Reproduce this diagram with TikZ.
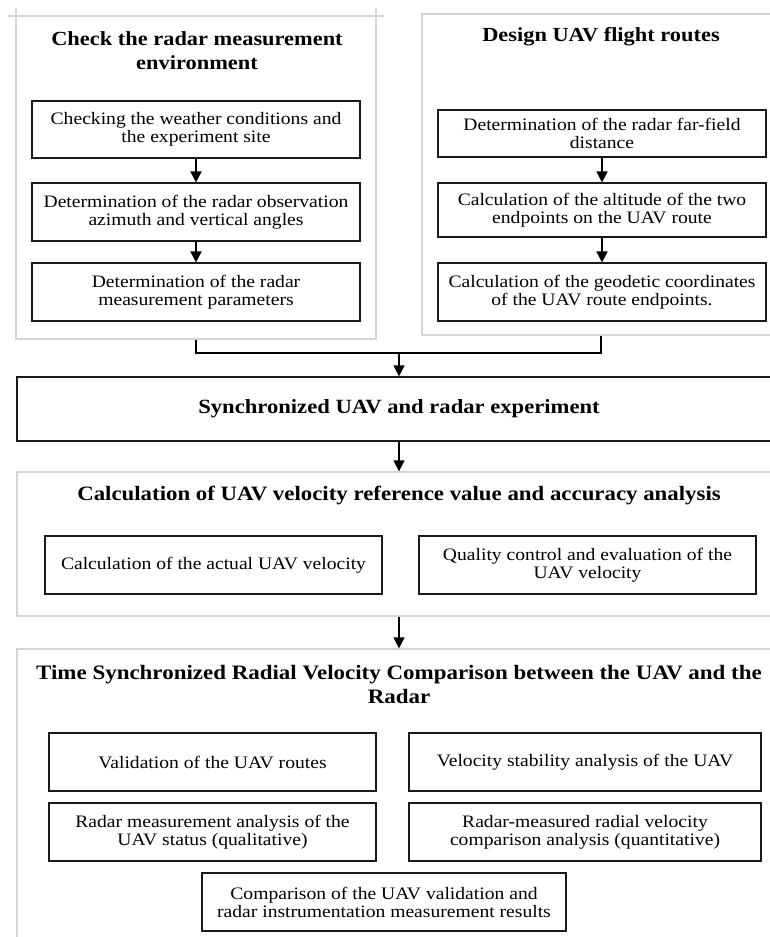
\documentclass[tikz,border=0pt]{standalone}
\usepackage{fontspec}
\setmainfont[FakeStretch=1.12]{Liberation Serif}
\usetikzlibrary{arrows.meta}
\begin{document}
\begin{tikzpicture}[x=1pt,y=-1pt,
  panel/.style={draw=black!17, line width=1.3pt, inner sep=0pt},
  stepbox/.style={draw=black!90, line width=1.1pt, align=center, inner sep=0pt,
    font=\fontsize{17.5}{18}\selectfont},
  ttl/.style={align=center, inner sep=0pt, font=\fontsize{20}{24}\selectfont\bfseries},
  wttl/.style={align=center, inner sep=0pt, font=\fontsize{20.4}{24}\selectfont\bfseries},
  link/.style={line width=1.5pt, draw=black},
  arr/.style={link, -{Triangle[width=11pt,length=11pt]}}]
\useasboundingbox (0,0) rectangle (770,937);

% ---------- top-left panel ----------
\node[panel, minimum width=360pt, minimum height=323pt] (pl) at (196,177.5) {};
\draw[draw=black!17, line width=1.3pt] (8,16) -- (384,16) (16,8) -- (16,16) (376,8) -- (376,16);
\node[ttl] (tl) at (197,51) {Check the radar measurement\\environment};
\node[stepbox, minimum width=328pt, minimum height=57pt] (l1) at (196,129.5)
  {Checking the weather conditions and\\the experiment site};
\node[stepbox, minimum width=328pt, minimum height=58pt] (l2) at (196,212)
  {Determination of the radar observation\\azimuth and vertical angles};
\node[stepbox, minimum width=328pt, minimum height=58pt] (l3) at (196,292)
  {Determination of the radar\\measurement parameters};
\draw[arr] (l1.south) -- (l2.north);
\draw[arr] (l2.south) -- (l3.north);

% ---------- top-right panel ----------
\node[panel, minimum width=358pt, minimum height=321pt] (pr) at (601,174.5) {};
\node[ttl] (tr) at (601,37) {Design UAV flight routes};
\node[stepbox, minimum width=328pt, minimum height=47pt] (r1) at (602,133.5)
  {Determination of the radar far-field\\distance};
\node[stepbox, minimum width=328pt, minimum height=54pt] (r2) at (602,210)
  {Calculation of the altitude of the two\\endpoints on the UAV route};
\node[stepbox, minimum width=328pt, minimum height=58pt] (r3) at (602,292)
  {Calculation of the geodetic coordinates\\of the UAV route endpoints.};
\draw[arr] (r1.south) -- (r2.north);
\draw[arr] (r2.south) -- (r3.north);

% ---------- synchronized experiment ----------
\coordinate (j) at (399,353);
\node[draw=black!90, line width=1.3pt, minimum width=764pt, minimum height=64pt, inner sep=0pt,
  font=\fontsize{20.2}{24}\selectfont\bfseries] (sync) at (399,409)
  {Synchronized UAV and radar experiment};
\draw[link] (pl.south) |- (j) -| (pr.south);
\draw[arr] (j) -- (sync.north);

% ---------- velocity reference panel ----------
\node[panel, minimum width=764pt, minimum height=144pt] (pv) at (399,544) {};
\draw[arr] (sync.south) -- (pv.north);
\node[wttl] (tv) at (399,496) {Calculation of UAV velocity reference value and accuracy analysis};
\node[stepbox, minimum width=337pt, minimum height=58pt] (v1) at (213.5,565)
  {Calculation of the actual UAV velocity};
\node[stepbox, minimum width=337pt, minimum height=58pt] (v2) at (587.5,565)
  {Quality control and evaluation of the\\UAV velocity};

% ---------- comparison panel ----------
\node[panel, minimum width=764pt, minimum height=310pt] (pc) at (399,804) {};
\draw[arr] (pv.south) -- (pc.north);
\node[wttl, font=\fontsize{20.5}{24}\selectfont\bfseries] (tc) at (399,684)
  {Time Synchronized Radial Velocity Comparison between the UAV and the\\Radar};
\node[stepbox, minimum width=327pt, minimum height=58pt] (c1) at (212.5,762)
  {Validation of the UAV routes};
\node[stepbox, minimum width=352pt, minimum height=58pt] (c2) at (585,762)
  {Velocity stability analysis of the UAV};
\node[stepbox, minimum width=327pt, minimum height=58pt] (c3) at (212.5,832)
  {Radar measurement analysis of the\\UAV status (qualitative)};
\node[stepbox, minimum width=352pt, minimum height=58pt] (c4) at (585,832)
  {Radar-measured radial velocity\\comparison analysis (quantitative)};
\node[stepbox, minimum width=364pt, minimum height=58pt] (c5) at (384,902)
  {Comparison of the UAV validation and\\radar instrumentation measurement results};
\end{tikzpicture}
\end{document}
